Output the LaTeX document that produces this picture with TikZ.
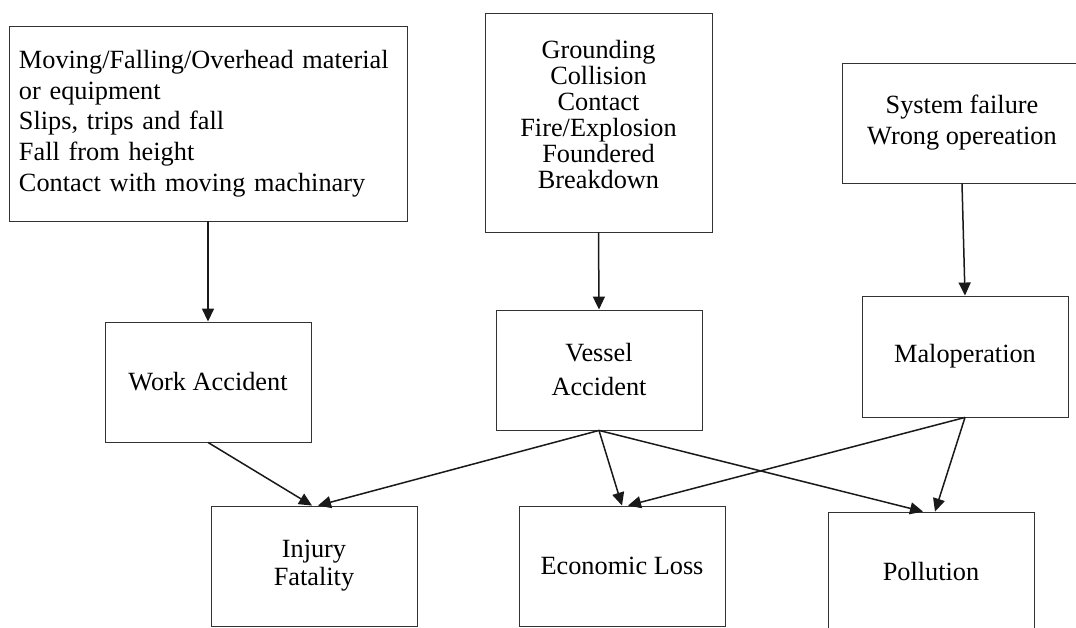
\documentclass[tikz,border=0pt]{standalone}
\usepackage{fontspec}
\setmainfont{Liberation Serif}
\usetikzlibrary{arrows.meta,calc}

\tikzset{
  box/.style={draw=black!80, line width=0.9pt, rectangle, inner sep=0pt,
              align=center, font=\fontsize{26.3}{30}\selectfont},
  flow/.style={draw=black!90, line width=1.5pt,
               -{Triangle[length=13pt,width=12pt]}},
}

\begin{document}
\begin{tikzpicture}[x=1pt, y=-1pt]
  \clip (0,0) rectangle (1076,628);
  \fill[white] (0,0) rectangle (1076,628);

  % hazard sources
  \node[box, minimum width=398, minimum height=195, text width=378, align=left,
        font=\fontsize{26.3}{30.7}\selectfont] (src1) at (208,123.5)
    {Moving/Falling/Overhead material\\or equipment\\Slips, trips and fall\\Fall from height\\Contact with moving machinary};

  \node[box, minimum width=227, minimum height=219] (src2) at (598.5,122.5) {};
  \node[align=center, inner sep=0pt, font=\fontsize{26.3}{26}\selectfont] (src2txt) at (598.5,115)
    {Grounding\\Collision\\Contact\\Fire/Explosion\\Foundered\\Breakdown};

  \node[box, minimum width=240, minimum height=120,
        font=\fontsize{26.3}{31}\selectfont] (src3) at (962,123)
    {System failure\\Wrong opereation};

  % accident types
  \node[box, minimum width=206, minimum height=120] (wa) at (208,382) {Work Accident};
  \node[box, minimum width=206, minimum height=120,
        font=\fontsize{26.3}{34}\selectfont] (va) at (599,370) {Vessel\\Accident};
  \node[box, minimum width=206, minimum height=121] (mal) at (965,356.5) {Maloperation};

  % consequences
  \node[box, minimum width=206, minimum height=120,
        font=\fontsize{26.3}{28}\selectfont] (inj) at (314,566) {Injury\\Fatality};
  \node[box, minimum width=206, minimum height=120] (eco) at (622,566) {Economic Loss};
  \node[box, minimum width=206, minimum height=120] (pol) at (931,572) {Pollution};

  % connectors
  \draw[flow] (src1.south) -- (wa.north);
  \draw[flow] (src2.south) -- (va.north);
  \draw[flow] (src3.south) -- (mal.north);

  \draw[flow] (wa.south) -- ($(inj.north)+(-2,0)$);
  \draw[flow] (va.south) -- ($(inj.north)+(4,0)$);
  \draw[flow] (va.south) -- (eco.north);
  \draw[flow] (va.south) -- ($(pol.north)+(-8,0)$);
  \draw[flow] (mal.south) -- ($(eco.north)+(6,0)$);
  \draw[flow] (mal.south) -- ($(pol.north)+(4,0)$);
\end{tikzpicture}
\end{document}
